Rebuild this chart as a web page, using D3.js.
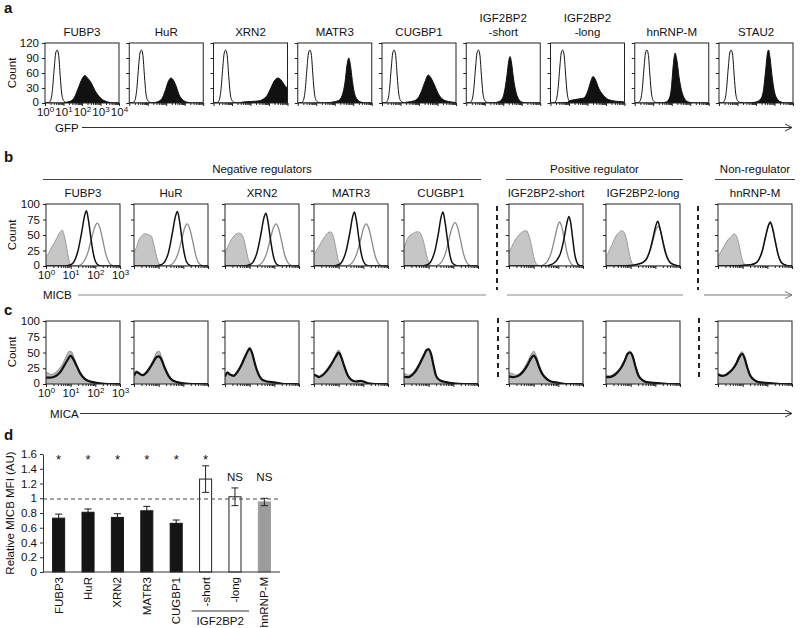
<!DOCTYPE html>
<html><head><meta charset="utf-8">
<script src="https://cdn.jsdelivr.net/npm/d3@7"></script>
<style>body{margin:0;background:#fff;} svg{display:block;}</style>
</head><body>
<script>
// ---------------- DATA ----------------
// Panel a : GFP histograms (x = log10 intensity, y = count)
const aTitles = [["FUBP3"],["HuR"],["XRN2"],["MATR3"],["CUGBP1"],["IGF2BP2","-short"],["IGF2BP2","-long"],["hnRNP-M"],["STAU2"]];
const aYTicks = [0,30,60,90,120];
const aXTicks = [0,1,2,3,4];
const aControl = [[0,0],[0.2,1],[0.3,5],[0.4,25],[0.5,70],[0.58,100],[0.66,106],[0.74,95],[0.82,55],[0.9,20],[1.0,5],[1.15,1],[1.4,0],[4,0]];
const aGFP = [
 [[0,0],[1.0,0],[1.2,2],[1.4,4],[1.6,12],[1.8,30],[2.0,48],[2.15,55],[2.3,50],[2.5,40],[2.7,25],[2.9,14],[3.1,7],[3.4,2],[3.7,0],[4,0]],
 [[0,0],[1.2,0],[1.5,2],[1.75,8],[1.95,25],[2.1,42],[2.25,50],[2.4,45],[2.55,32],[2.7,16],[2.9,6],[3.1,2],[3.4,0],[4,0]],
 [[0,0],[1.3,0],[1.6,2],[2.0,3],[2.4,4],[2.7,8],[2.9,15],[3.1,30],[3.3,45],[3.5,50],[3.65,46],[3.8,38],[3.9,33],[4,30]],
 [[0,0],[1.5,0],[1.9,2],[2.2,5],[2.4,15],[2.55,40],[2.68,80],[2.76,90],[2.85,75],[2.95,45],[3.05,22],[3.2,8],[3.4,2],[3.7,0],[4,0]],
 [[0,0],[1.0,0],[1.4,2],[1.7,4],[1.95,10],[2.15,25],[2.35,45],[2.5,56],[2.65,50],[2.85,35],[3.05,18],[3.3,7],[3.6,3],[4,1]],
 [[0,0],[1.4,0],[1.7,2],[1.9,6],[2.05,20],[2.2,55],[2.3,85],[2.37,93],[2.45,80],[2.55,50],[2.7,20],[2.85,7],[3.0,2],[3.3,0],[4,0]],
 [[0,0],[0.9,1],[1.0,4],[1.2,6],[1.5,8],[1.8,10],[2.0,22],[2.15,40],[2.3,53],[2.45,45],[2.6,30],[2.8,18],[3.0,10],[3.3,5],[3.7,3],[4,2]],
 [[0,0],[1.4,0],[1.7,2],[1.85,8],[1.98,30],[2.08,75],[2.18,100],[2.28,85],[2.4,50],[2.55,22],[2.7,8],[2.9,2],[3.2,0],[4,0]],
 [[0,0],[1.6,0],[2.0,2],[2.25,8],[2.4,25],[2.52,65],[2.62,100],[2.68,106],[2.76,90],[2.88,50],[3.0,22],[3.15,8],[3.35,2],[3.6,0],[4,0]]
];

// Panel b : MICB histograms
const bTitles = ["FUBP3","HuR","XRN2","MATR3","CUGBP1","IGF2BP2-short","IGF2BP2-long","hnRNP-M"];
const bGroupNames = ["Negative regulators","Positive regulator","Non-regulator"];
const bGroupMembers = [[0,4],[5,6],[7,7]];
const bYTicks = [0,25,50,75,100];
const bXTicks = [0,1,2,3];
const bIsotype = [
 [[0,15],[0.1,20],[0.2,28],[0.3,35],[0.4,42],[0.5,50],[0.6,56],[0.66,58],[0.72,52],[0.8,38],[0.88,20],[0.95,6],[1.02,1],[1.1,0],[3,0]],
 [[0,22],[0.1,30],[0.2,42],[0.3,48],[0.45,52],[0.6,50],[0.7,48],[0.8,35],[0.9,18],[1.0,5],[1.08,1],[1.2,0],[3,0]],
 [[0,20],[0.1,30],[0.25,42],[0.4,50],[0.55,53],[0.65,52],[0.75,45],[0.85,28],[0.95,10],[1.05,2],[1.15,0],[3,0]],
 [[0,18],[0.1,25],[0.25,35],[0.4,45],[0.55,53],[0.68,55],[0.78,48],[0.88,30],[0.98,10],[1.08,2],[1.2,0],[3,0]],
 [[0,30],[0.1,40],[0.2,48],[0.35,52],[0.5,55],[0.6,55],[0.7,50],[0.8,38],[0.9,20],[1.0,6],[1.1,1],[1.2,0],[3,0]],
 [[0,22],[0.1,30],[0.25,42],[0.4,50],[0.55,55],[0.7,57],[0.8,50],[0.9,35],[1.0,15],[1.1,4],[1.2,1],[1.3,0],[3,0]],
 [[0,15],[0.1,22],[0.25,35],[0.4,48],[0.55,55],[0.62,57],[0.72,55],[0.82,45],[0.92,25],[1.02,8],[1.12,2],[1.25,0],[3,0]],
 [[0,15],[0.1,22],[0.25,32],[0.4,42],[0.55,48],[0.65,52],[0.75,48],[0.85,35],[0.95,15],[1.05,4],[1.15,1],[1.25,0],[3,0]]
];
const bVector = [
 [[0,0],[1.2,0],[1.4,2],[1.55,8],[1.7,22],[1.85,45],[1.98,63],[2.08,69],[2.18,62],[2.3,42],[2.42,20],[2.55,6],[2.68,1],[2.8,0],[3,0]],
 [[0,0],[1.3,0],[1.5,2],[1.65,8],[1.8,22],[1.94,44],[2.06,62],[2.16,68],[2.26,60],[2.38,40],[2.5,18],[2.62,5],[2.75,1],[2.9,0],[3,0]],
 [[0,0],[1.2,0],[1.4,2],[1.55,8],[1.7,22],[1.84,44],[1.97,62],[2.07,68],[2.17,61],[2.29,41],[2.41,19],[2.54,6],[2.67,1],[2.8,0],[3,0]],
 [[0,0],[1.25,0],[1.45,2],[1.6,8],[1.75,22],[1.9,44],[2.02,62],[2.12,68],[2.22,61],[2.34,41],[2.46,19],[2.58,6],[2.7,1],[2.85,0],[3,0]],
 [[0,0],[1.2,0],[1.4,2],[1.55,8],[1.7,23],[1.84,46],[1.97,64],[2.07,70],[2.17,63],[2.29,42],[2.41,20],[2.54,6],[2.67,1],[2.8,0],[3,0]],
 [[0,0],[1.2,0],[1.4,2],[1.55,7],[1.7,20],[1.85,44],[1.97,64],[2.05,71],[2.14,63],[2.25,42],[2.36,20],[2.48,6],[2.6,1],[2.75,0],[3,0]],
 [[0,0],[1.0,1],[1.3,3],[1.5,6],[1.65,12],[1.8,26],[1.93,45],[2.04,60],[2.12,64],[2.2,58],[2.32,38],[2.44,20],[2.56,8],[2.7,3],[2.85,1],[3,0]],
 [[0,0],[1.0,1],[1.3,2],[1.5,4],[1.65,10],[1.8,25],[1.92,45],[2.04,64],[2.12,70],[2.2,62],[2.32,40],[2.44,18],[2.56,6],[2.7,2],[2.85,0],[3,0]]
];
const bKnockdown = [
 [[0,0],[0.8,0],[1.0,2],[1.15,8],[1.3,25],[1.45,55],[1.57,82],[1.64,89],[1.72,74],[1.82,45],[1.92,20],[2.02,6],[2.15,1],[2.3,0],[3,0]],
 [[0,0],[0.9,0],[1.1,2],[1.25,7],[1.4,22],[1.55,52],[1.68,80],[1.76,88],[1.84,74],[1.94,45],[2.04,20],[2.14,6],[2.27,1],[2.4,0],[3,0]],
 [[0,0],[0.8,0],[1.0,2],[1.15,7],[1.3,22],[1.45,50],[1.58,78],[1.66,85],[1.74,72],[1.84,44],[1.94,20],[2.04,6],[2.17,1],[2.3,0],[3,0]],
 [[0,0],[0.8,0],[1.0,2],[1.15,8],[1.3,24],[1.45,53],[1.57,80],[1.64,87],[1.72,73],[1.82,44],[1.92,19],[2.02,6],[2.15,1],[2.3,0],[3,0]],
 [[0,0],[0.75,0],[0.95,2],[1.1,8],[1.25,24],[1.4,54],[1.51,80],[1.58,87],[1.66,72],[1.76,43],[1.86,18],[1.96,5],[2.1,1],[2.25,0],[3,0]],
 [[0,0],[1.4,0],[1.6,1],[1.8,4],[1.95,10],[2.1,22],[2.22,42],[2.34,68],[2.43,80],[2.5,70],[2.58,45],[2.66,20],[2.75,6],[2.85,1],[3,0]],
 [[0,0],[1.0,1],[1.3,3],[1.5,6],[1.65,12],[1.8,28],[1.92,48],[2.02,65],[2.1,72],[2.18,62],[2.3,40],[2.42,20],[2.55,8],[2.7,3],[2.85,1],[3,0]],
 [[0,0],[1.0,1],[1.3,2],[1.5,4],[1.65,10],[1.8,25],[1.92,46],[2.04,65],[2.12,71],[2.2,63],[2.32,40],[2.44,18],[2.56,6],[2.7,2],[2.85,0],[3,0]]
];

// Panel c : MICA histograms
const cVector = [
 [[0,18],[0.1,17],[0.2,15],[0.35,17],[0.5,22],[0.65,30],[0.8,42],[0.95,52],[1.05,50],[1.15,40],[1.3,25],[1.45,14],[1.6,7],[1.8,3],[2.1,1],[2.4,0],[3,0]],
 [[0,15],[0.1,21],[0.2,18],[0.35,15],[0.5,20],[0.65,28],[0.8,40],[0.92,50],[1.02,52],[1.12,42],[1.25,27],[1.4,14],[1.55,7],[1.75,3],[2.0,1],[2.4,0],[3,0]],
 [[0,12],[0.1,19],[0.2,16],[0.35,14],[0.5,20],[0.65,30],[0.8,43],[0.92,53],[1.0,58],[1.1,50],[1.22,32],[1.35,17],[1.5,8],[1.7,4],[1.9,3],[2.1,2],[2.4,0],[3,0]],
 [[0,16],[0.1,14],[0.2,12],[0.35,15],[0.5,22],[0.65,30],[0.8,40],[0.92,50],[1.0,54],[1.1,45],[1.22,30],[1.35,16],[1.5,8],[1.7,4],[1.88,5],[2.0,4],[2.2,1],[2.5,0],[3,0]],
 [[0,17],[0.1,15],[0.2,14],[0.35,17],[0.5,25],[0.65,35],[0.8,47],[0.92,55],[1.0,56],[1.1,48],[1.2,30],[1.3,14],[1.45,6],[1.7,3],[2.0,1],[2.4,0],[3,0]],
 [[0,18],[0.15,16],[0.3,14],[0.45,17],[0.6,24],[0.75,35],[0.9,47],[1.0,52],[1.1,45],[1.22,30],[1.35,17],[1.5,9],[1.7,4],[2.0,2],[2.3,0],[3,0]],
 [[0,14],[0.15,13],[0.3,15],[0.45,20],[0.6,27],[0.75,38],[0.88,50],[0.98,52],[1.08,45],[1.2,28],[1.32,14],[1.45,7],[1.65,3],[1.9,2],[2.2,1],[2.5,0],[3,0]],
 [[0,17],[0.15,14],[0.3,15],[0.45,19],[0.6,25],[0.75,35],[0.87,46],[0.97,51],[1.07,44],[1.18,28],[1.3,14],[1.45,7],[1.65,3],[1.9,2],[2.2,1],[2.5,0],[3,0]]
];
const cKnockdown = [
 [[0,10],[0.15,10],[0.3,11],[0.45,14],[0.6,20],[0.75,30],[0.9,40],[1.0,45],[1.1,40],[1.25,28],[1.4,16],[1.55,9],[1.7,5],[1.9,3],[2.2,1],[2.5,0],[3,0]],
 [[0,13],[0.1,19],[0.2,17],[0.35,14],[0.5,18],[0.65,26],[0.8,36],[0.92,43],[1.02,44],[1.12,38],[1.25,25],[1.4,13],[1.55,6],[1.75,3],[2.0,1],[2.4,0],[3,0]],
 [[0,12],[0.1,18],[0.2,15],[0.35,13],[0.5,19],[0.65,29],[0.8,42],[0.92,52],[1.0,56],[1.1,49],[1.22,31],[1.35,16],[1.5,7],[1.7,4],[1.9,3],[2.1,2],[2.4,0],[3,0]],
 [[0,14],[0.1,13],[0.2,11],[0.35,14],[0.5,20],[0.65,28],[0.8,38],[0.92,46],[1.0,50],[1.1,43],[1.22,29],[1.35,15],[1.5,7],[1.7,4],[1.88,5],[2.0,4],[2.2,1],[2.5,0],[3,0]],
 [[0,12],[0.1,11],[0.2,11],[0.35,15],[0.5,22],[0.65,33],[0.8,45],[0.92,54],[1.0,55],[1.1,47],[1.2,29],[1.3,13],[1.45,6],[1.7,3],[2.0,1],[2.4,0],[3,0]],
 [[0,12],[0.15,11],[0.3,12],[0.45,15],[0.6,21],[0.75,30],[0.9,41],[1.0,45],[1.1,40],[1.22,27],[1.35,16],[1.5,9],[1.7,4],[2.0,2],[2.3,0],[3,0]],
 [[0,11],[0.15,11],[0.3,13],[0.45,18],[0.6,25],[0.75,36],[0.88,48],[0.98,50],[1.08,44],[1.2,27],[1.32,13],[1.45,7],[1.65,3],[1.9,2],[2.2,1],[2.5,0],[3,0]],
 [[0,15],[0.15,13],[0.3,14],[0.45,18],[0.6,24],[0.75,33],[0.87,43],[0.97,48],[1.07,42],[1.18,27],[1.3,14],[1.45,7],[1.65,3],[1.9,2],[2.2,1],[2.5,0],[3,0]]
];

// Panel d : bar chart
const dCategories = ["FUBP3","HuR","XRN2","MATR3","CUGBP1","-short","-long","hnRNP-M"];
const dValues = [0.73,0.81,0.74,0.83,0.66,1.26,1.02,0.95];
const dErrors = [0.055,0.045,0.05,0.06,0.045,0.18,0.12,0.05];
const dGroups = ["neg","neg","neg","neg","neg","pos","pos","non"];
const dSignif = ["*","*","*","*","*","*","NS","NS"];
const dYTicks = [0,0.2,0.4,0.6,0.8,1,1.2,1.4,1.6];
const dReference = 0.99;

// ---------------- LAYOUT ----------------
const FONT = "'Liberation Sans', Arial, Helvetica, sans-serif";
const FS = 11.5;
const bcBoxLeft = [46,134,225,314,404,509,606,718];
const bcBoxW = 74;
const bcSeparators = [497,698];

const svg = d3.select("body").append("svg").attr("width",800).attr("height",628)
  .attr("font-family",FONT).attr("font-size",FS).attr("fill","#111");

const curve = d3.curveMonotoneX;

function panelLetter(t,x,y){
  svg.append("text").attr("x",x).attr("y",y).attr("font-weight","bold").attr("font-size",15).text(t);
}
function arrowLine(x1,x2,y,color,arrow){
  svg.append("line").attr("x1",x1).attr("x2",x2).attr("y1",y).attr("y2",y).attr("stroke",color).attr("stroke-width",1);
  if(arrow){
    svg.append("path").attr("d",`M${x2-7},${y-3.5}L${x2},${y}L${x2-7},${y+3.5}`).attr("fill","none").attr("stroke",color).attr("stroke-width",1);
  }
}
let clipN = 0;
function flowBox(o){
  const g = svg.append("g");
  const xl = d3.scaleLinear().domain([0,o.decades]).range([o.left,o.left+o.width]);
  const xlog = d3.scaleLog().domain([1,Math.pow(10,o.decades)]).range([o.left,o.left+o.width]);
  const y = d3.scaleLinear().domain([0,o.yMax]).range([o.bottom,o.top]);
  const id = "clip"+(clipN++);
  svg.append("clipPath").attr("id",id).append("rect")
    .attr("x",o.left).attr("y",o.top).attr("width",o.width).attr("height",o.bottom-o.top);
  const inner = g.append("g").attr("clip-path",`url(#${id})`);
  o.layers.forEach(L=>{
    if(L.fill){
      inner.append("path").attr("d",d3.area().x(d=>xl(d[0])).y0(y(0)).y1(d=>y(d[1])).curve(curve)(L.data))
        .attr("fill",L.fill).attr("stroke","none");
    }
    inner.append("path").attr("d",d3.line().x(d=>xl(d[0])).y(d=>y(d[1])).curve(curve)(L.data))
      .attr("fill","none").attr("stroke",L.stroke).attr("stroke-width",L.sw).attr("stroke-linejoin","round");
  });
  g.append("rect").attr("x",o.left).attr("y",o.top).attr("width",o.width).attr("height",o.bottom-o.top)
    .attr("fill","none").attr("stroke","#222").attr("stroke-width",1);
  const ya = d3.axisLeft(y).tickValues(o.yTicks).tickSize(3).tickSizeOuter(0).tickPadding(3);
  if(!o.labels) ya.tickFormat(()=> "");
  const yg = g.append("g").attr("transform",`translate(${o.left},0)`).call(ya);
  yg.select(".domain").remove();
  yg.attr("font-family",FONT).attr("font-size",FS);
  yg.selectAll("text").attr("fill","#111");
  // lift the "0" label slightly so it clears the x tick labels
  yg.selectAll(".tick").filter(d=>d===0).select("text").attr("dy","0.2em");
  const minors = [];
  for(let k=0;k<o.decades;k++) for(let m=2;m<=9;m++) minors.push(m*Math.pow(10,k));
  const xm = g.append("g").attr("transform",`translate(0,${o.bottom})`)
    .call(d3.axisBottom(xlog).tickValues(minors).tickSize(2).tickSizeOuter(0).tickFormat(()=> ""));
  xm.select(".domain").remove();
  const majors = o.xTicks.map(e=>Math.pow(10,e));
  const xM = g.append("g").attr("transform",`translate(0,${o.bottom})`)
    .call(d3.axisBottom(xlog).tickValues(majors).tickSize(3).tickSizeOuter(0).tickPadding(o.xPad));
  xM.select(".domain").remove();
  xM.attr("font-family",FONT).attr("font-size",FS);
  xM.selectAll(".tick text").each(function(d){
    const t = d3.select(this);
    t.text("");
    if(!o.labels) return;
    t.attr("fill","#111");
    t.append("tspan").text("10");
    t.append("tspan").attr("dy",-4.5).attr("font-size",8).text(Math.round(Math.log10(d)));
  });
  g.selectAll(".tick line").attr("stroke","#222");
}
function countLabel(yc){
  svg.append("text").attr("transform",`translate(16,${yc}) rotate(-90)`).attr("text-anchor","middle").text("Count");
}

// ---------------- PANEL a ----------------
panelLetter("a",4,13);
const aX = d3.scaleBand().domain(d3.range(aTitles.length)).range([45,793]).paddingInner(0.1217).paddingOuter(0);
aTitles.forEach((t,i)=>{
  const cx = aX(i)+aX.bandwidth()/2;
  t.forEach((line,j)=>{
    svg.append("text").attr("x",cx).attr("y",35.5-(t.length-1-j)*13.5).attr("text-anchor","middle").text(line);
  });
  flowBox({left:aX(i),width:aX.bandwidth(),top:43,bottom:103,decades:4,yMax:120,yTicks:aYTicks,xTicks:aXTicks,
    labels:i===0,xPad:2,
    layers:[{data:aGFP[i],fill:"#111",stroke:"#111",sw:1},{data:aControl,fill:null,stroke:"#111",sw:1}]});
});
countLabel(73);
svg.append("text").attr("x",55).attr("y",132).text("GFP");
arrowLine(82,792,127.5,"#333",true);

// ---------------- PANEL b ----------------
panelLetter("b",4,162);
bGroupNames.forEach((name,gi)=>{
  const [s,e] = bGroupMembers[gi];
  const l = bcBoxLeft[s]-3, r = bcBoxLeft[e]+bcBoxW+3;
  svg.append("text").attr("x",(bcBoxLeft[s]+bcBoxLeft[e]+bcBoxW)/2).attr("y",173).attr("text-anchor","middle").text(name);
  svg.append("line").attr("x1",l).attr("x2",r).attr("y1",179.5).attr("y2",179.5).attr("stroke","#444");
});
bTitles.forEach((t,i)=>{
  svg.append("text").attr("x",bcBoxLeft[i]+bcBoxW/2).attr("y",197).attr("text-anchor","middle").text(t);
  flowBox({left:bcBoxLeft[i],width:bcBoxW,top:204,bottom:266,decades:3,yMax:100,yTicks:bYTicks,xTicks:bXTicks,
    labels:i===0,xPad:2,
    layers:[{data:bIsotype[i],fill:"#c6c6c6",stroke:"#9a9a9a",sw:1},
            {data:bVector[i],fill:null,stroke:"#8a8a8a",sw:1.3},
            {data:bKnockdown[i],fill:null,stroke:"#111",sw:1.5}]});
});
countLabel(235);
bcSeparators.forEach(x=>{
  svg.append("line").attr("x1",x).attr("x2",x).attr("y1",206).attr("y2",290).attr("stroke","#222")
    .attr("stroke-width",2).attr("stroke-dasharray","5,4");
});
svg.append("text").attr("x",43).attr("y",299).text("MICB");
arrowLine(78,486,295,"#888",false);
arrowLine(507,683,295,"#888",false);
arrowLine(704,792,295,"#777",true);

// ---------------- PANEL c ----------------
panelLetter("c",4,315);
bTitles.forEach((t,i)=>{
  flowBox({left:bcBoxLeft[i],width:bcBoxW,top:321,bottom:384,decades:3,yMax:100,yTicks:bYTicks,xTicks:bXTicks,
    labels:i===0,xPad:2,
    layers:[{data:cVector[i],fill:"#bcbcbc",stroke:"#999",sw:1.2},
            {data:cKnockdown[i],fill:null,stroke:"#111",sw:2.2}]});
});
countLabel(352);
bcSeparators.forEach(x=>{
  svg.append("line").attr("x1",x+1).attr("x2",x+1).attr("y1",318).attr("y2",380).attr("stroke","#222")
    .attr("stroke-width",2).attr("stroke-dasharray","5,4");
});
svg.append("text").attr("x",50).attr("y",417.5).text("MICA");
arrowLine(80,792,413.5,"#333",true);

// ---------------- PANEL d ----------------
panelLetter("d",4,440);
const dX = d3.scaleBand().domain(dCategories).range([43,280]).paddingInner(0.59).paddingOuter(0.327);
const dY = d3.scaleLinear().domain([0,1.6]).range([572,454]);
const dFill = {neg:"#151515",pos:"#ffffff",non:"#9c9c9c"};
const dStroke = {neg:"#151515",pos:"#222",non:"#9c9c9c"};
const dg = svg.append("g");
dCategories.forEach((c,i)=>{
  const x = dX(c), w = dX.bandwidth(), cx = x+w/2;
  dg.append("rect").attr("x",x).attr("y",dY(dValues[i])).attr("width",w).attr("height",dY(0)-dY(dValues[i]))
    .attr("fill",dFill[dGroups[i]]).attr("stroke",dStroke[dGroups[i]]).attr("stroke-width",1);
  const lo = dY(dValues[i]-dErrors[i]), hi = dY(dValues[i]+dErrors[i]);
  const ec = dGroups[i]==="neg" ? "#151515" : "#222";
  dg.append("line").attr("x1",cx).attr("x2",cx).attr("y1",lo).attr("y2",hi).attr("stroke",ec);
  [lo,hi].forEach(yy=>dg.append("line").attr("x1",cx-3.5).attr("x2",cx+3.5).attr("y1",yy).attr("y2",yy).attr("stroke",ec));
  const sig = dSignif[i];
  if(sig==="*"){
    dg.append("text").attr("x",cx).attr("y",dY(1.555)+7).attr("text-anchor","middle").attr("font-size",13).text("*");
  } else {
    dg.append("text").attr("x",cx).attr("y",dY(1.29)+4.5).attr("text-anchor","middle").text(sig);
  }
  dg.append("text").attr("transform",`translate(${cx+4},577) rotate(-90)`).attr("text-anchor","end").text(c);
});
dg.append("line").attr("x1",43).attr("x2",280).attr("y1",dY(dReference)).attr("y2",dY(dReference))
  .attr("stroke","#444").attr("stroke-dasharray","4,3");
const dya = dg.append("g").attr("transform","translate(43,0)")
  .call(d3.axisLeft(dY).tickValues(dYTicks).tickSize(3).tickSizeOuter(0).tickPadding(3).tickFormat(d3.format("~g")));
dya.attr("font-family",FONT).attr("font-size",FS);
dya.selectAll("text").attr("fill","#111");
dya.select(".domain").attr("stroke","#333");
dya.selectAll(".tick line").attr("stroke","#333");
dg.append("line").attr("x1",43).attr("x2",280).attr("y1",572).attr("y2",572).attr("stroke","#333");
dg.append("text").attr("transform","translate(14,513) rotate(-90)").attr("text-anchor","middle").text("Relative MICB MFI (AU)");
const igfL = dX("-short"), igfR = dX("-long")+dX.bandwidth();
dg.append("line").attr("x1",igfL-8).attr("x2",igfR+8).attr("y1",611).attr("y2",611).attr("stroke","#333");
dg.append("text").attr("x",(igfL+igfR)/2).attr("y",625).attr("text-anchor","middle").text("IGF2BP2");
</script>
</body></html>
